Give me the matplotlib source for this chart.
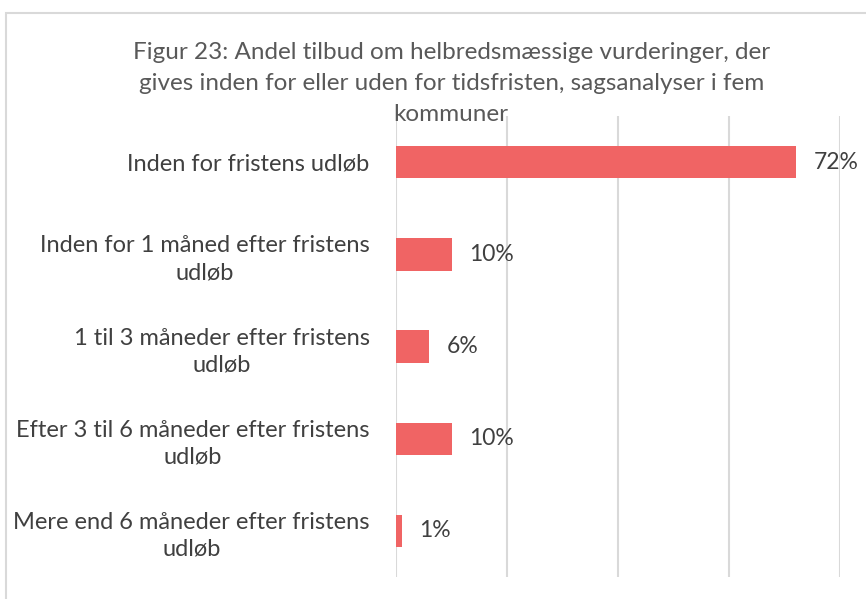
import matplotlib.pyplot as plt
import matplotlib.patches as mpatches
from matplotlib.ticker import MultipleLocator

plt.rcParams['font.family'] = ['Lato', 'DejaVu Sans']

categories = [
    'Inden for fristens udløb',
    'Inden for 1 måned efter fristens\nudløb',
    '1 til 3 måneder efter fristens\nudløb',
    'Efter 3 til 6 måneder efter fristens\nudløb',
    'Mere end 6 måneder efter fristens\nudløb',
]
values = [0.72, 0.10, 0.06, 0.10, 0.01]
labels = ['72%', '10%', '6%', '10%', '1%']

title = ('Figur 23: Andel tilbud om helbredsmæssige vurderinger, der\n'
         'gives inden for eller uden for tidsfristen, sagsanalyser i fem\n'
         'kommuner')

fig = plt.figure(figsize=(8.66, 5.99), dpi=100)
ax = fig.add_axes([0.4573, 0.0367, 0.5127, 0.7693])

# chart frame (right and bottom edges fall outside the image)
fig.patches.append(mpatches.Rectangle((6 / 866, -0.01), 2, 1.01 - 13 / 599,
                                      transform=fig.transFigure, fill=False,
                                      edgecolor='#d9d9d9', linewidth=1.5))

ypos = list(range(len(categories)))
ax.barh(ypos, values, height=0.35, color='#f06464', zorder=3)
for y, v, lab in zip(ypos, values, labels):
    ax.text(v + 0.032, y, lab, va='center', ha='left', fontsize=16.5, color='#404040')

ax.set_xlim(0, 0.8)
ax.set_ylim(len(categories) - 0.5, -0.5)
ax.xaxis.set_major_locator(MultipleLocator(0.2))
ax.grid(axis='x', color='#d9d9d9', linewidth=1.5, zorder=0)
ax.set_xticklabels([])
ax.tick_params(axis='x', length=0)
ax.tick_params(axis='y', length=0, pad=19)
ax.set_yticks(ypos)
ax.set_yticklabels(categories, fontsize=17, color='#404040', ha='right')
for t in ax.get_yticklabels():
    t.set_multialignment('center')
    t.set_linespacing(1.35)
for s in ax.spines.values():
    s.set_visible(False)

fig.text(0.521, 0.861, title, ha='center', va='center', fontsize=17.5,
         color='#595959', linespacing=1.6)

fig.savefig('out.png', dpi=100)
